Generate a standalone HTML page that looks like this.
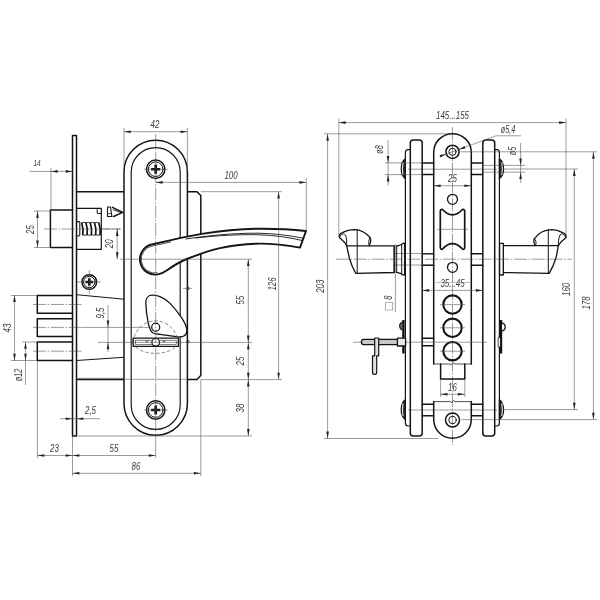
<!DOCTYPE html>
<html><head><meta charset="utf-8"><title>Lock drawing</title>
<style>
html,body{margin:0;padding:0;background:#fff;}
body{width:600px;height:600px;overflow:hidden;}
svg{display:block;}
.k{fill:none;stroke:#141414;stroke-width:1.5;stroke-linejoin:round;stroke-linecap:round;}
.m{fill:none;stroke:#141414;stroke-width:1.0;stroke-linejoin:round;stroke-linecap:round;}
.n{fill:none;stroke:#4a4a4a;stroke-width:0.55;}
.c{fill:none;stroke:#4a4a4a;stroke-width:0.55;stroke-dasharray:13 1.6 1.6 1.6;}
.d{fill:none;stroke:#707070;stroke-width:0.8;stroke-dasharray:3.5 2;}
.a{fill:#222;stroke:none;}
.f{fill:#111;stroke:none;}
.w{fill:#fff;stroke:#141414;stroke-width:1.5;stroke-linejoin:round;}
.wm{fill:#fff;stroke:#141414;stroke-width:1.0;stroke-linejoin:round;}
.t{font-family:"Liberation Sans","DejaVu Sans",sans-serif;font-style:italic;fill:#3a3a3a;}
</style></head><body>
<svg width="600" height="600" viewBox="0 0 600 600" style="filter:grayscale(1)">
<rect x="0" y="0" width="600" height="600" fill="#fff"/>
<path d="M76.5,191.7H197.0L200.8,195.5V375.6L197.0,379.6H76.5" class="k" />
<rect x="72.50" y="135.50" width="4.00" height="300.50" class="k" />
<line x1="76.50" y1="294.70" x2="124.00" y2="299.20" class="m" />
<line x1="76.50" y1="360.50" x2="124.00" y2="357.30" class="m" />
<line x1="76.50" y1="378.30" x2="124.00" y2="378.30" class="n" />
<path d="M72.5,210H50.4V247.5H72.5" class="k" />
<path d="M76.5,208.4H101.3V249.3H76.5" class="m" style="stroke-width:1.2"/>
<path d="M101.3,213.4H97.2V209.6" class="m" />
<path d="M76.8,221.6H78.6Q79.8,221.6 79.8,222.8V234.8Q79.8,236 78.6,236H76.8" class="m" style="stroke-width:1.1"/>
<path d="M81.7,223Q83.60000000000001,228.7 82.8,234.6" class="k" style="stroke-width:1.7"/>
<path d="M81.7,223Q84.2,221.6 86.10000000000001,223M82.8,234.6Q85.2,236 87.10000000000001,234.6" class="n" style="stroke:#222;stroke-width:0.9"/>
<path d="M86.0,223Q87.9,228.7 87.1,234.6" class="k" style="stroke-width:1.7"/>
<path d="M86.0,223Q88.5,221.6 90.4,223M87.1,234.6Q89.5,236 91.4,234.6" class="n" style="stroke:#222;stroke-width:0.9"/>
<path d="M90.3,223Q92.2,228.7 91.39999999999999,234.6" class="k" style="stroke-width:1.7"/>
<path d="M90.3,223Q92.8,221.6 94.7,223M91.39999999999999,234.6Q93.8,236 95.7,234.6" class="n" style="stroke:#222;stroke-width:0.9"/>
<path d="M94.6,223Q96.5,228.7 95.69999999999999,234.6" class="k" style="stroke-width:1.7"/>
<path d="M94.6,223Q97.1,221.6 99.0,223M95.69999999999999,234.6Q98.1,236 100.0,234.6" class="n" style="stroke:#222;stroke-width:0.9"/>
<path d="M98.9,223Q100.80000000000001,228.7 100.0,234.6" class="k" style="stroke-width:1.7"/>
<line x1="44.00" y1="229.00" x2="120.50" y2="229.00" class="c" />
<path d="M107.5,207H110.5L111.9,216.5H107.5Z" class="m" style="stroke-width:1.1"/>
<path d="M107.5,213.6H111.4" class="n" style="stroke:#222;stroke-width:0.8"/>
<path d="M112.4,207.4L122.8,212.4L113.6,216.5" class="m" style="stroke-width:1.5"/>
<path d="M113.2,209.8L121,212.5" class="m" style="stroke-width:0.9"/>
<path d="M72.5,295.5H37.3V313.3H72.5" class="k" />
<path d="M72.5,318.7H37.3V336.5H72.5" class="k" />
<path d="M72.5,342.0H37.3V360.5H72.5" class="k" />
<line x1="33.00" y1="304.50" x2="82.00" y2="304.50" class="c" />
<line x1="33.00" y1="351.20" x2="82.00" y2="351.20" class="c" />
<circle cx="89.30" cy="282.00" r="7.30" class="k" />
<circle cx="89.30" cy="282.00" r="5.70" class="m" />
<path d="M85.5,280.7H88.0V278.2H90.6V280.7H93.1V283.3H90.6V285.8H88.0V283.3H85.5Z" class="f" />
<line x1="89.30" y1="270.00" x2="89.30" y2="294.00" class="n" />
<line x1="77.00" y1="282.00" x2="101.00" y2="282.00" class="n" />
<path d="M123.99999999999999,172.0A31.7,31.7 0 0 1 187.39999999999998,172.0V403.5A31.7,31.7 0 0 1 123.99999999999999,403.5Z" class="w" />
<path d="M131.2,172.1A24.5,24.5 0 0 1 180.2,172.1V404.9A24.5,24.5 0 0 1 131.2,404.9Z" class="m" style="stroke-width:1.15"/>
<circle cx="155.70" cy="169.20" r="9.20" class="k" />
<circle cx="155.70" cy="169.20" r="7.30" class="m" />
<path d="M151.1,167.89999999999998H154.39999999999998V164.6H157.0V167.89999999999998H160.29999999999998V170.5H157.0V173.79999999999998H154.39999999999998V170.5H151.1Z" class="f" />
<line x1="143.70" y1="169.20" x2="167.70" y2="169.20" class="n" />
<circle cx="155.70" cy="410.00" r="9.20" class="k" />
<circle cx="155.70" cy="410.00" r="7.30" class="m" />
<path d="M151.1,408.7H154.39999999999998V405.4H157.0V408.7H160.29999999999998V411.3H157.0V414.6H154.39999999999998V411.3H151.1Z" class="f" />
<line x1="143.70" y1="410.00" x2="167.70" y2="410.00" class="n" />
<path d="M158,274.4A15.3,15.3 0 1 1 152.6,244.2C158,243 164,241.7 170,240.4C182,237.6 192,235.4 203.3,233.6C222,230.6 244,228.7 262,228.7C277,228.7 292,229.4 306,231L300,247.6C288,245.4 274,243.6 260,243.6C244,243.8 230,245.8 220,248.2C208,251 197,255 186.7,259C179,262.2 173,266 167,270.3C163.5,272.8 161,274 158,274.4Z" class="w" style="stroke-width:1.9"/>
<path d="M157.6,272.8A13.7,13.7 0 1 1 153,245.8C158,244.8 164,243.4 171,241.9" class="n" style="stroke:#222;stroke-width:0.8"/>
<path d="M186,239C205,236 232,233 258,233.2C274,233.4 290,235.4 303.8,238.4" class="m" style="stroke-width:0.9"/>
<path d="M196,238C215,235.6 240,234.2 260,234.8C276,235.4 290,237.6 302.6,240.6" class="m" style="stroke-width:0.9"/>
<path d="M151.8,295.2C148,295.4 145.6,298.6 145.8,303.3C146,310 147,317 148.3,323.3C149.4,328.4 150.6,331.6 153,333C155,334 157.5,334.1 160,334.4L178,336.8C183,337.4 187,335.4 186.9,330.5C186.6,326 184.4,322 182,318.4C178,312.4 174.4,307.8 170.4,303.6C167,300.2 163.6,298.2 160,296.7C157,295.5 154.5,295 151.8,295.2Z" class="w" style="stroke-width:1.3"/>
<circle cx="155.70" cy="327.20" r="4.00" class="w" style="stroke-width:1.2"/>
<path d="M132.5,342.4C138,313.6 173,313.6 178.6,342.4" class="d" />
<path d="M132.5,342.4C138,357 173,357 178.6,342.4" class="d" />
<rect x="133.20" y="338.20" width="45.20" height="8.20" class="w" style="stroke-width:1.3"/>
<rect x="135.40" y="340.20" width="40.80" height="4.30" class="n" style="stroke:#222"/>
<path d="M146,340.2V341.6H148V340.2M163,340.2V341.6H165V340.2" class="n" style="stroke:#222"/>
<circle cx="155.70" cy="342.30" r="3.80" class="w" style="stroke-width:1.2"/>
<circle cx="188.00" cy="288.40" r="1.30" class="n" style="stroke:#222;stroke-width:0.8"/>
<line x1="183.00" y1="288.40" x2="192.00" y2="288.40" class="n" />
<circle cx="188.00" cy="341.60" r="1.30" class="n" style="stroke:#222;stroke-width:0.8"/>
<line x1="155.70" y1="134.00" x2="155.70" y2="447.00" class="c" />
<line x1="120.00" y1="259.20" x2="252.00" y2="259.20" class="n" />
<line x1="98.00" y1="342.40" x2="252.00" y2="342.40" class="n" />
<line x1="124.00" y1="379.30" x2="187.40" y2="379.30" class="n" />
<line x1="124.00" y1="171.00" x2="124.00" y2="128.00" class="n" />
<line x1="187.40" y1="171.00" x2="187.40" y2="128.00" class="n" />
<line x1="124.00" y1="131.70" x2="187.40" y2="131.70" class="n" />
<polygon points="124.00,131.70 130.90,130.40 130.90,133.00" class="a"/>
<polygon points="187.40,131.70 180.50,133.00 180.50,130.40" class="a"/>
<text transform="translate(155.00,128.20) scale(0.72,1)" font-size="11" text-anchor="middle" class="t">42</text>
<line x1="306.30" y1="178.00" x2="306.30" y2="231.00" class="n" />
<line x1="155.70" y1="182.40" x2="306.30" y2="182.40" class="n" />
<polygon points="155.70,182.40 162.60,181.10 162.60,183.70" class="a"/>
<polygon points="306.30,182.40 299.40,183.70 299.40,181.10" class="a"/>
<text transform="translate(231.00,178.80) scale(0.72,1)" font-size="11" text-anchor="middle" class="t">100</text>
<line x1="200.80" y1="191.70" x2="282.00" y2="191.70" class="n" />
<line x1="200.80" y1="379.60" x2="282.00" y2="379.60" class="n" />
<line x1="278.60" y1="191.70" x2="278.60" y2="379.60" class="n" />
<polygon points="278.60,191.70 279.90,198.60 277.30,198.60" class="a"/>
<polygon points="278.60,379.60 277.30,372.70 279.90,372.70" class="a"/>
<text transform="translate(276.00,284.00) rotate(-90) scale(0.72,1)" font-size="11" text-anchor="middle" class="t">126</text>
<line x1="78.00" y1="436.00" x2="252.00" y2="436.00" class="n" />
<line x1="248.30" y1="259.20" x2="248.30" y2="342.40" class="n" />
<polygon points="248.30,259.20 249.60,266.10 247.00,266.10" class="a"/>
<polygon points="248.30,342.40 247.00,335.50 249.60,335.50" class="a"/>
<text transform="translate(244.00,300.00) rotate(-90) scale(0.72,1)" font-size="11" text-anchor="middle" class="t">55</text>
<line x1="248.30" y1="342.40" x2="248.30" y2="379.60" class="n" />
<polygon points="248.30,342.40 249.60,349.30 247.00,349.30" class="a"/>
<polygon points="248.30,379.60 247.00,372.70 249.60,372.70" class="a"/>
<text transform="translate(244.00,361.00) rotate(-90) scale(0.72,1)" font-size="11" text-anchor="middle" class="t">25</text>
<line x1="248.30" y1="379.60" x2="248.30" y2="436.00" class="n" />
<polygon points="248.30,379.60 249.60,386.50 247.00,386.50" class="a"/>
<polygon points="248.30,436.00 247.00,429.10 249.60,429.10" class="a"/>
<text transform="translate(244.00,408.00) rotate(-90) scale(0.72,1)" font-size="11" text-anchor="middle" class="t">38</text>
<line x1="101.30" y1="229.00" x2="120.50" y2="229.00" class="n" />
<line x1="117.20" y1="229.00" x2="117.20" y2="259.20" class="n" />
<polygon points="117.20,229.00 118.50,235.90 115.90,235.90" class="a"/>
<polygon points="117.20,259.20 115.90,252.30 118.50,252.30" class="a"/>
<text transform="translate(112.80,243.80) rotate(-90) scale(0.72,1)" font-size="11" text-anchor="middle" class="t">20</text>
<line x1="51.00" y1="168.00" x2="51.00" y2="209.50" class="n" />
<line x1="29.50" y1="171.40" x2="72.50" y2="171.40" class="n" />
<polygon points="51.00,171.40 57.70,170.10 57.70,172.70" class="a"/>
<polygon points="72.50,171.40 65.80,172.70 65.80,170.10" class="a"/>
<text transform="translate(37.00,166.40) scale(0.72,1)" font-size="9" text-anchor="middle" class="t">14</text>
<line x1="34.00" y1="211.00" x2="51.00" y2="211.00" class="n" />
<line x1="34.00" y1="247.50" x2="51.00" y2="247.50" class="n" />
<line x1="37.50" y1="211.00" x2="37.50" y2="247.50" class="n" />
<polygon points="37.50,211.00 38.80,217.90 36.20,217.90" class="a"/>
<polygon points="37.50,247.50 36.20,240.60 38.80,240.60" class="a"/>
<text transform="translate(33.50,229.50) rotate(-90) scale(0.72,1)" font-size="11" text-anchor="middle" class="t">25</text>
<line x1="11.00" y1="295.50" x2="37.00" y2="295.50" class="n" />
<line x1="11.00" y1="360.50" x2="37.00" y2="360.50" class="n" />
<line x1="14.50" y1="295.20" x2="14.50" y2="360.60" class="n" />
<polygon points="14.50,295.20 15.80,302.10 13.20,302.10" class="a"/>
<polygon points="14.50,360.60 13.20,353.70 15.80,353.70" class="a"/>
<text transform="translate(11.20,328.00) rotate(-90) scale(0.72,1)" font-size="11" text-anchor="middle" class="t">43</text>
<line x1="22.00" y1="342.00" x2="37.00" y2="342.00" class="n" />
<line x1="25.50" y1="342.00" x2="25.50" y2="385.00" class="n" />
<polygon points="25.50,342.00 26.80,348.80 24.20,348.80" class="a"/>
<polygon points="25.50,360.50 24.20,353.70 26.80,353.70" class="a"/>
<text transform="translate(21.80,375.00) rotate(-90) scale(0.72,1)" font-size="10" text-anchor="middle" class="t">ø12</text>
<line x1="33.00" y1="327.40" x2="82.00" y2="327.40" class="c" />
<line x1="82.00" y1="327.40" x2="151.00" y2="327.40" class="n" />
<line x1="108.00" y1="305.00" x2="108.00" y2="352.00" class="n" />
<polygon points="108.00,327.30 106.70,320.40 109.30,320.40" class="a"/>
<polygon points="108.00,342.40 109.30,349.30 106.70,349.30" class="a"/>
<text transform="translate(104.00,313.00) rotate(-90) scale(0.72,1)" font-size="11" text-anchor="middle" class="t">9,5</text>
<line x1="60.00" y1="418.70" x2="100.00" y2="418.70" class="n" />
<polygon points="72.50,418.70 65.60,420.00 65.60,417.40" class="a"/>
<polygon points="76.50,418.70 83.40,417.40 83.40,420.00" class="a"/>
<text transform="translate(90.50,414.00) scale(0.72,1)" font-size="11" text-anchor="middle" class="t">2,5</text>
<line x1="37.40" y1="360.50" x2="37.40" y2="458.00" class="n" />
<line x1="72.50" y1="436.00" x2="72.50" y2="476.00" class="n" />
<line x1="155.70" y1="447.00" x2="155.70" y2="458.00" class="n" />
<line x1="200.80" y1="379.60" x2="200.80" y2="476.00" class="n" />
<line x1="37.40" y1="455.50" x2="72.50" y2="455.50" class="n" />
<polygon points="37.40,455.50 44.30,454.20 44.30,456.80" class="a"/>
<polygon points="72.50,455.50 65.60,456.80 65.60,454.20" class="a"/>
<text transform="translate(54.50,451.50) scale(0.72,1)" font-size="11" text-anchor="middle" class="t">23</text>
<line x1="72.50" y1="455.50" x2="155.70" y2="455.50" class="n" />
<polygon points="72.50,455.50 79.40,454.20 79.40,456.80" class="a"/>
<polygon points="155.70,455.50 148.80,456.80 148.80,454.20" class="a"/>
<text transform="translate(114.00,451.50) scale(0.72,1)" font-size="11" text-anchor="middle" class="t">55</text>
<line x1="72.50" y1="473.30" x2="200.80" y2="473.30" class="n" />
<polygon points="72.50,473.30 79.40,472.00 79.40,474.60" class="a"/>
<polygon points="200.80,473.30 193.90,474.60 193.90,472.00" class="a"/>
<text transform="translate(136.00,469.50) scale(0.72,1)" font-size="11" text-anchor="middle" class="t">86</text>
<line x1="452.50" y1="127.00" x2="452.50" y2="445.00" class="c" />
<line x1="408.00" y1="169.20" x2="497.00" y2="169.20" class="n" />
<line x1="408.00" y1="410.00" x2="497.00" y2="410.00" class="n" />
<path d="M410.3,143Q410.3,140 413.3,140H419.2Q422.2,140 422.2,143V433Q422.2,436 419.2,436H413.3Q410.3,436 410.3,433Z" class="k" />
<path d="M410.3,149.6H407.9Q405.4,149.6 405.4,152.5V423Q405.4,426 407.9,426H410.3" class="m" style="stroke-width:1.2"/>
<path d="M405.4,158.75Q401.2,161.75 401.2,168.75Q401.2,175.75 405.4,178.75Z" class="k" style="stroke-width:1.2;fill:#2a2a2a"/>
<path d="M403.0,162.35Q401.79999999999995,168.75 403.0,175.15" class="n" style="stroke:#e6e6e6;stroke-width:1.1"/>
<path d="M405.4,399.8Q401.2,402.8 401.2,409.8Q401.2,416.8 405.4,419.8Z" class="k" style="stroke-width:1.2;fill:#2a2a2a"/>
<path d="M403.0,403.40000000000003Q401.79999999999995,409.8 403.0,416.2" class="n" style="stroke:#e6e6e6;stroke-width:1.1"/>
<path d="M482.8,143Q482.8,140 485.8,140H491.7Q494.7,140 494.7,143V433Q494.7,436 491.7,436H485.8Q482.8,436 482.8,433Z" class="k" />
<path d="M494.7,149.6H496.9Q499.4,149.6 499.4,152.5V423Q499.4,426 496.9,426H494.7" class="m" style="stroke-width:1.2"/>
<path d="M499.4,158.75Q503.59999999999997,161.75 503.59999999999997,168.75Q503.59999999999997,175.75 499.4,178.75Z" class="k" style="stroke-width:1.2;fill:#2a2a2a"/>
<path d="M501.79999999999995,162.35Q503.0,168.75 501.79999999999995,175.15" class="n" style="stroke:#e6e6e6;stroke-width:1.1"/>
<path d="M499.4,399.8Q503.59999999999997,402.8 503.59999999999997,409.8Q503.59999999999997,416.8 499.4,419.8Z" class="k" style="stroke-width:1.2;fill:#2a2a2a"/>
<path d="M501.79999999999995,403.40000000000003Q503.0,409.8 501.79999999999995,416.2" class="n" style="stroke:#e6e6e6;stroke-width:1.1"/>
<line x1="422.20" y1="162.90" x2="433.70" y2="162.90" class="k" />
<line x1="422.20" y1="174.60" x2="433.70" y2="174.60" class="k" />
<line x1="471.30" y1="162.90" x2="482.80" y2="162.90" class="k" />
<line x1="471.30" y1="174.60" x2="482.80" y2="174.60" class="k" />
<line x1="422.20" y1="253.70" x2="433.70" y2="253.70" class="k" />
<line x1="422.20" y1="265.30" x2="433.70" y2="265.30" class="k" />
<line x1="471.30" y1="253.70" x2="482.80" y2="253.70" class="k" />
<line x1="471.30" y1="265.30" x2="482.80" y2="265.30" class="k" />
<line x1="422.20" y1="338.30" x2="433.70" y2="338.30" class="k" />
<line x1="422.20" y1="345.80" x2="433.70" y2="345.80" class="k" />
<line x1="422.20" y1="404.20" x2="433.70" y2="404.20" class="k" />
<line x1="422.20" y1="415.70" x2="433.70" y2="415.70" class="k" />
<line x1="471.30" y1="404.20" x2="482.80" y2="404.20" class="k" />
<line x1="471.30" y1="415.70" x2="482.80" y2="415.70" class="k" />
<line x1="400.40" y1="162.90" x2="422.20" y2="162.90" class="n" />
<line x1="400.40" y1="174.60" x2="422.20" y2="174.60" class="n" />
<line x1="482.80" y1="165.40" x2="503.40" y2="165.40" class="n" />
<line x1="482.80" y1="172.20" x2="503.40" y2="172.20" class="n" />
<path d="M433.7,364V152.4A18.80000000000001,18.80000000000001 0 0 1 471.3,152.4V364" class="k" />
<path d="M433.7,364H450.5L451.5,365.2L453.5,362.8L454.5,364H471.3" class="n" style="stroke:#222;stroke-width:0.8"/>
<path d="M440.6,364V379H464.8V364" class="k" />
<line x1="440.60" y1="379.00" x2="440.60" y2="397.00" class="n" />
<line x1="464.80" y1="379.00" x2="464.80" y2="397.00" class="n" />
<path d="M433.7,401.6V419.4A18.80000000000001,18.80000000000001 0 0 0 471.3,419.4V401.6" class="k" />
<path d="M433.7,401.6H450.5L451.5,402.8L453.5,400.4L454.5,401.6H471.3" class="n" style="stroke:#222;stroke-width:0.8"/>
<circle cx="452.50" cy="151.80" r="6.60" class="k" />
<circle cx="452.50" cy="151.80" r="3.60" class="m" />
<circle cx="452.50" cy="420.00" r="7.00" class="k" />
<circle cx="452.50" cy="420.00" r="3.70" class="m" />
<circle cx="452.50" cy="199.30" r="5.00" class="k" style="stroke-width:1.3"/>
<circle cx="452.50" cy="267.30" r="5.00" class="k" style="stroke-width:1.3"/>
<path d="M442.3,209.3H441.8Q440.3,209.3 440.3,211V247.6Q440.3,249.3 441.8,249.3H442.3Q452.5,238 462.7,249.3H463.2Q464.7,249.3 464.7,247.6V211Q464.7,209.3 463.2,209.3H462.7Q452.5,220.6 442.3,209.3Z" class="k" style="stroke-width:1.7"/>
<line x1="437.00" y1="229.30" x2="468.00" y2="229.30" class="n" />
<circle cx="452.50" cy="304.60" r="9.20" class="k" style="stroke-width:2.1"/>
<line x1="440.00" y1="304.60" x2="465.00" y2="304.60" class="n" />
<circle cx="452.50" cy="327.80" r="9.20" class="k" style="stroke-width:2.1"/>
<line x1="440.00" y1="327.80" x2="465.00" y2="327.80" class="n" />
<circle cx="452.50" cy="351.20" r="9.20" class="k" style="stroke-width:2.1"/>
<line x1="440.00" y1="351.20" x2="465.00" y2="351.20" class="n" />
<line x1="392.50" y1="253.50" x2="433.70" y2="253.50" class="n" />
<line x1="392.50" y1="265.00" x2="433.70" y2="265.00" class="n" />
<path d="M394.2,245.8H346.7C348,251 348.6,255 349.4,258.3C351,264 353,268.6 355.8,273.3L394.2,272.5Z" class="w" style="stroke-width:1.3"/>
<path d="M346.7,245.8C345,242 342,240 339.6,237.8C338.6,236 339.6,233.6 342.5,232.6C346,230.6 351,229.6 355,229.6C361,229.8 366,233 370,237.5C371.4,240 370.6,243 369.2,245.6" class="k" style="stroke-width:1.3"/>
<path d="M339.6,237.8C340,234.6 343.4,232.6 345.4,235C346.8,238 346.6,242 346.7,245.8" class="m" />
<path d="M370,237.5C368.4,240 368.4,243 369.2,245.6" class="m" />
<line x1="357.20" y1="229.80" x2="357.20" y2="273.30" class="m" />
<path d="M394.2,245.8V272.5M396.7,246V272.4" class="m" />
<path d="M396.7,246C399,245.6 401.4,244.8 403.4,243.2L404.6,243.4V274.8L403.4,275C401.4,273.6 399,272.8 396.7,272.4" class="k" style="stroke-width:1.3"/>
<line x1="401.70" y1="244.60" x2="401.70" y2="273.80" class="m" />
<path d="M503.3,245.6H558.3C557.4,251 556.8,255 555.8,258.3C554.2,264 552,268.6 549.2,273.4L503.3,272.5Z" class="w" style="stroke-width:1.3"/>
<path d="M558.3,245.6C560,242 563.6,240 565.8,237.8C566.8,236 565.6,233.6 562.6,232.6C559,230.6 555.6,229.6 551.6,229.6C545,229.8 538.4,233 534.4,238.6C533.2,241 534,243.4 535.2,245.4" class="k" style="stroke-width:1.3"/>
<path d="M565.8,237.8C565.4,234.6 562,232.6 560,235C558.6,238 558.4,242 558.3,245.6" class="m" />
<path d="M534.4,238.6C536.4,240.6 536.4,243 535.6,245.4" class="m" />
<line x1="548.30" y1="229.80" x2="548.30" y2="273.40" class="m" />
<rect x="499.60" y="243.30" width="3.70" height="31.70" class="w" style="stroke-width:1.3"/>
<line x1="336.00" y1="259.20" x2="572.00" y2="259.20" class="c" />
<path d="M402.2,320H404.6V353.5H402.2Z" class="f" />
<path d="M402.2,322Q399.5,323.4 399.6,326.2Q399.8,329 402.2,330" class="k" style="stroke-width:1.1;fill:#666"/>
<path d="M499.8,320H502.2V353.5H499.8Z" class="f" />
<path d="M502.2,323.2Q505.2,323.8 505.2,327Q505.2,330.4 502.2,331" class="k" style="stroke-width:1.2;fill:#fff"/>
<path d="M499.4,338.4V346" class="k" style="stroke:#fff;stroke-width:1.4"/>
<path d="M498.2,338Q498.2,337 499.2,337M498.2,338V346.4Q498.2,347.4 499.2,347.4" class="n" style="stroke:#222;stroke-width:0.8"/>
<line x1="353.00" y1="342.20" x2="487.00" y2="342.20" class="n" />
<path d="M397.4,339.4H363.6Q361.4,339.4 361.4,342Q361.4,344.6 363.6,344.6H397.4" class="wm" style="stroke-width:1.2;fill:#c8c8c8"/>
<rect x="397.40" y="338.20" width="8.20" height="7.80" class="w" style="stroke-width:1.3;fill:#e8e8e8"/>
<path d="M374.7,338H378.7V355.8H376.7V372.4Q376.7,374.3 374.6,374.3Q372.5,374.3 372.5,372.4V355.8H374.7Z" class="w" style="stroke-width:1.2;fill:#e0e0e0"/>
<text transform="translate(392.2,311.3) rotate(-90)" font-size="10.5" style="font-family:'DejaVu Sans','Liberation Sans',sans-serif;font-style:normal;fill:#777">□</text>
<line x1="395.40" y1="244.00" x2="395.40" y2="312.00" class="n" />
<text transform="translate(391.50,297.60) rotate(-90) scale(0.72,1)" font-size="10.5" text-anchor="middle" class="t">8</text>
<line x1="338.80" y1="118.50" x2="338.80" y2="236.00" class="n" />
<line x1="566.00" y1="118.50" x2="566.00" y2="236.00" class="n" />
<line x1="338.80" y1="122.60" x2="566.00" y2="122.60" class="n" />
<polygon points="338.80,122.60 345.70,121.30 345.70,123.90" class="a"/>
<polygon points="566.00,122.60 559.10,123.90 559.10,121.30" class="a"/>
<text transform="translate(452.50,118.50) scale(0.72,1)" font-size="11" text-anchor="middle" class="t">145...155</text>
<line x1="324.00" y1="133.80" x2="452.50" y2="133.80" class="n" />
<line x1="324.00" y1="438.50" x2="438.00" y2="438.50" class="n" />
<line x1="327.60" y1="133.80" x2="327.60" y2="438.50" class="n" />
<polygon points="327.60,133.80 328.90,140.70 326.30,140.70" class="a"/>
<polygon points="327.60,438.50 326.30,431.60 328.90,431.60" class="a"/>
<text transform="translate(323.60,286.20) rotate(-90) scale(0.72,1)" font-size="11" text-anchor="middle" class="t">203</text>
<line x1="385.00" y1="162.90" x2="405.40" y2="162.90" class="n" />
<line x1="385.00" y1="174.60" x2="405.40" y2="174.60" class="n" />
<line x1="388.10" y1="140.00" x2="388.10" y2="185.60" class="n" />
<polygon points="388.10,162.90 386.80,156.00 389.40,156.00" class="a"/>
<polygon points="388.10,174.60 389.40,181.50 386.80,181.50" class="a"/>
<text transform="translate(382.50,149.50) rotate(-90) scale(0.72,1)" font-size="10" text-anchor="middle" class="t">ø8</text>
<line x1="503.40" y1="165.40" x2="525.00" y2="165.40" class="n" />
<line x1="503.40" y1="172.20" x2="525.00" y2="172.20" class="n" />
<line x1="520.60" y1="143.00" x2="520.60" y2="183.00" class="n" />
<polygon points="520.60,165.40 519.30,158.50 521.90,158.50" class="a"/>
<polygon points="520.60,172.20 521.90,179.10 519.30,179.10" class="a"/>
<text transform="translate(516.40,151.00) rotate(-90) scale(0.72,1)" font-size="10" text-anchor="middle" class="t">ø5</text>
<line x1="441.00" y1="156.00" x2="496.00" y2="135.80" class="n" />
<line x1="496.00" y1="135.80" x2="521.00" y2="135.80" class="n" />
<polygon points="446.10,154.10 440.45,157.56 439.55,155.12" class="a"/>
<polygon points="458.90,149.40 464.55,145.94 465.45,148.38" class="a"/>
<text transform="translate(508.00,133.00) scale(0.72,1)" font-size="10" text-anchor="middle" class="t">ø5,4</text>
<line x1="433.70" y1="185.70" x2="471.30" y2="185.70" class="n" />
<polygon points="433.70,185.70 440.60,184.40 440.60,187.00" class="a"/>
<polygon points="471.30,185.70 464.40,187.00 464.40,184.40" class="a"/>
<text transform="translate(452.50,181.50) scale(0.72,1)" font-size="11" text-anchor="middle" class="t">25</text>
<line x1="422.20" y1="290.40" x2="482.80" y2="290.40" class="n" />
<polygon points="422.20,290.40 429.10,289.10 429.10,291.70" class="a"/>
<polygon points="482.80,290.40 475.90,291.70 475.90,289.10" class="a"/>
<text transform="translate(452.50,286.60) scale(0.72,1)" font-size="11" text-anchor="middle" class="t">35...45</text>
<line x1="436.00" y1="282.50" x2="470.00" y2="282.50" class="n" style="stroke:#888"/>
<line x1="440.60" y1="394.20" x2="464.80" y2="394.20" class="n" />
<polygon points="440.60,394.20 447.50,392.90 447.50,395.50" class="a"/>
<polygon points="464.80,394.20 457.90,395.50 457.90,392.90" class="a"/>
<text transform="translate(452.50,390.50) scale(0.72,1)" font-size="11" text-anchor="middle" class="t">16</text>
<line x1="460.50" y1="151.80" x2="597.00" y2="151.80" class="n" />
<line x1="503.40" y1="169.00" x2="578.00" y2="169.00" class="n" />
<line x1="503.40" y1="409.60" x2="578.00" y2="409.60" class="n" />
<line x1="461.50" y1="419.60" x2="597.00" y2="419.60" class="n" />
<line x1="574.30" y1="169.00" x2="574.30" y2="409.60" class="n" />
<polygon points="574.30,169.00 575.60,175.90 573.00,175.90" class="a"/>
<polygon points="574.30,409.60 573.00,402.70 575.60,402.70" class="a"/>
<text transform="translate(569.60,289.40) rotate(-90) scale(0.72,1)" font-size="11" text-anchor="middle" class="t">160</text>
<line x1="593.40" y1="151.80" x2="593.40" y2="419.60" class="n" />
<polygon points="593.40,151.80 594.70,158.70 592.10,158.70" class="a"/>
<polygon points="593.40,419.60 592.10,412.70 594.70,412.70" class="a"/>
<text transform="translate(590.30,303.00) rotate(-90) scale(0.72,1)" font-size="11" text-anchor="middle" class="t">178</text>
</svg>
</body></html>
